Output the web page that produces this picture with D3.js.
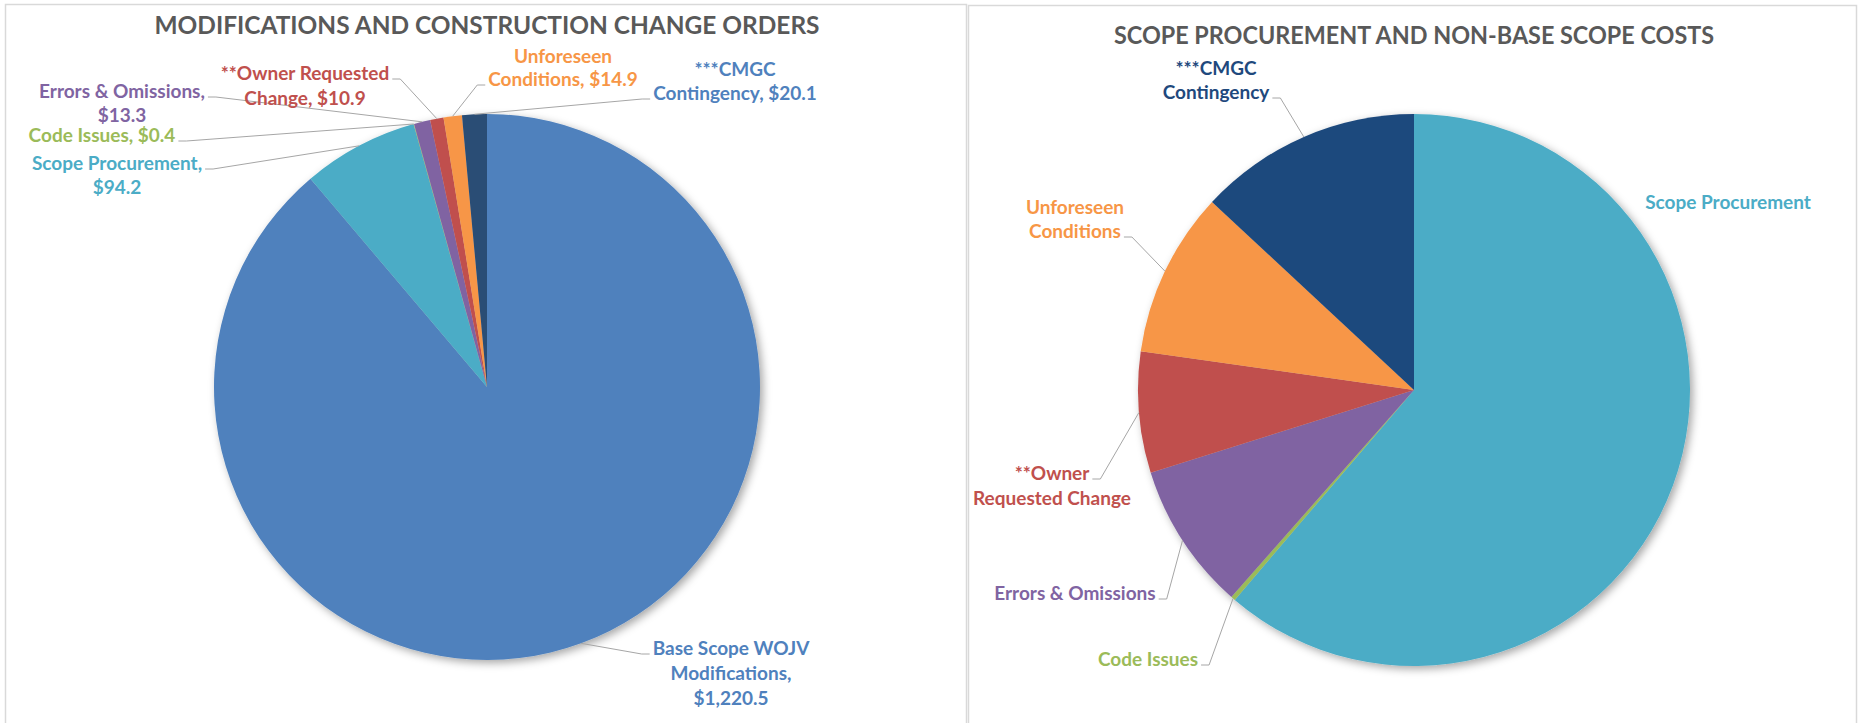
<!DOCTYPE html>
<html>
<head>
<meta charset="utf-8">
<script src="https://cdn.jsdelivr.net/npm/d3@7"></script>
<style>
  body { margin: 0; background: #fff; }
  text { font-family: Lato, "Open Sans", sans-serif; font-weight: bold; }
</style>
</head>
<body>
<div id="chart"></div>
<script>
// values in $M
const categories = ["Base Scope WOJV Modifications", "Scope Procurement", "Code Issues",
    "Errors & Omissions", "**Owner Requested Change", "Unforeseen Conditions", "***CMGC Contingency"];
const costs = [1220.5, 94.2, 0.4, 13.3, 10.9, 14.9, 20.1];

// second chart leaves out the base scope slice
const nonBaseCategories = categories.slice(1);
const nonBaseCosts = costs.slice(1);

const sliceColors = ["#4F81BD", "#4BACC6", "#9BBB59", "#8064A2", "#C0504D", "#F79646", "#2C4D75"];
const labelColors = ["#4F81BD", "#4BACC6", "#9BBB59", "#8064A2", "#C0504D", "#F79646", "#4F81BD"];
const nonBaseSliceColors = ["#4BACC6", "#9BBB59", "#8064A2", "#C0504D", "#F79646", "#1F497D"];
const nonBaseLabelColors = ["#4BACC6", "#9BBB59", "#8064A2", "#C0504D", "#F79646", "#1F497D"];

// label placement (manual in the original): centre x, first baseline, words per line, leader side
const leftLabelLayout = [
    {x: 731, y: 655, words: [3, 1, 1], lh: 25, side: "left", line: 0},
    {x: 117, y: 170, words: [2, 1], lh: 24, side: "right", line: 0},
    {x: 102, y: 142, words: [3], lh: 24, side: "right", line: 0},
    {x: 122, y: 98, words: [3, 1], lh: 24, side: "right", line: 0},
    {x: 305, y: 80, words: [2, 2], lh: 25, side: "right", line: 0},
    {x: 563, y: 63, words: [1, 2], lh: 23, side: "left", line: 1},
    {x: 735, y: 76, words: [1, 2], lh: 24, side: "left", line: 1}
];
const rightLabelLayout = [
    {x: 1728, y: 209, words: [2], lh: 24, side: null, line: 0},
    {x: 1148, y: 666, words: [2], lh: 24, side: "right", line: 0},
    {x: 1075, y: 600, words: [3], lh: 24, side: "right", line: 0},
    {x: 1052, y: 480, words: [1, 2], lh: 25, side: "right", line: 0},
    {x: 1075, y: 214, words: [1, 1], lh: 24, side: "right", line: 1},
    {x: 1216, y: 75, words: [1, 1], lh: 24, side: "right", line: 1}
];

const width = 1858, height = 723;
const money = d3.format("$,.1f");

const svg = d3.select("#chart").append("svg")
    .attr("width", width)
    .attr("height", height);

const shadow = svg.append("defs").append("filter")
    .attr("id", "shadow")
    .attr("x", "-10%").attr("y", "-10%")
    .attr("width", "125%").attr("height", "125%");
shadow.append("feDropShadow")
    .attr("dx", 3).attr("dy", 3)
    .attr("stdDeviation", 4)
    .attr("flood-color", "#000")
    .attr("flood-opacity", 0.35);

// chart area borders
svg.append("rect")
    .attr("x", 5.5).attr("y", 4.5)
    .attr("width", 961).attr("height", 740)
    .attr("fill", "none").attr("stroke", "#D9D9D9").attr("stroke-width", 1.5);
svg.append("rect")
    .attr("x", 968.5).attr("y", 5.5)
    .attr("width", 888).attr("height", 740)
    .attr("fill", "none").attr("stroke", "#D9D9D9").attr("stroke-width", 1.5);

function splitWords(text, counts) {
    const words = text.split(" ");
    const lines = [];
    let i = 0;
    counts.forEach(n => {
        lines.push(words.slice(i, i + n).join(" "));
        i += n;
    });
    return lines;
}

function drawPie(opts) {
    const {names, values, colors, textColors, layout, cx, cy, r, title, titleX, titleY, titleW, withValues} = opts;

    // Calibri title is narrower than Lato, so squeeze it to the original width
    svg.append("text")
        .attr("x", titleX)
        .attr("y", titleY)
        .attr("text-anchor", "middle")
        .attr("textLength", titleW)
        .attr("lengthAdjust", "spacingAndGlyphs")
        .style("font-size", "25px")
        .attr("fill", "#595959")
        .text(title);

    const pie = d3.pie().sort(null).value(d => d.value);
    const arcs = pie(names.map((n, i) => ({name: n, value: values[i], i: i})));

    const arc = d3.arc().innerRadius(0).outerRadius(r);
    const edge = d3.arc().innerRadius(r).outerRadius(r);

    const g = svg.append("g").attr("transform", `translate(${cx},${cy})`);
    g.append("g")
        .attr("filter", "url(#shadow)")
        .selectAll("path")
        .data(arcs)
        .enter().append("path")
            .attr("d", arc)
            .attr("fill", d => colors[d.data.i]);

    const labels = svg.append("g");
    arcs.forEach(d => {
        const L = layout[d.data.i];
        const str = withValues ? `${d.data.name}, ${money(d.data.value)}` : d.data.name;
        const lines = splitWords(str, L.words);

        const t = labels.append("text")
            .attr("text-anchor", "middle")
            .attr("fill", textColors[d.data.i])
            .style("font-size", "19px");
        const spans = lines.map((s, k) => t.append("tspan")
            .attr("x", L.x)
            .attr("y", L.y + k * L.lh)
            .text(s));

        if (!L.side) return;
        const w = spans[L.line].node().getComputedTextLength();
        const ly = L.y + L.line * L.lh - 1;
        const lx = L.side === "left" ? L.x - w / 2 - 3 : L.x + w / 2 + 3;
        const hx = L.side === "left" ? lx - 8 : lx + 8;
        const [ex, ey] = edge.centroid(d);

        labels.append("polyline")
            .attr("points", [[lx, ly], [hx, ly], [cx + ex, cy + ey]].map(p => p.join(",")).join(" "))
            .attr("fill", "none")
            .attr("stroke", "#A6A6A6")
            .attr("stroke-width", 1);
    });
}

drawPie({
    names: categories, values: costs, colors: sliceColors, textColors: labelColors,
    layout: leftLabelLayout, cx: 487, cy: 387, r: 273,
    title: "MODIFICATIONS AND CONSTRUCTION CHANGE ORDERS", titleX: 487, titleY: 34, titleW: 665,
    withValues: true
});

drawPie({
    names: nonBaseCategories, values: nonBaseCosts, colors: nonBaseSliceColors, textColors: nonBaseLabelColors,
    layout: rightLabelLayout, cx: 1414, cy: 390, r: 276,
    title: "SCOPE PROCUREMENT AND NON-BASE SCOPE COSTS", titleX: 1414, titleY: 44, titleW: 600,
    withValues: false
});
</script>
</body>
</html>
